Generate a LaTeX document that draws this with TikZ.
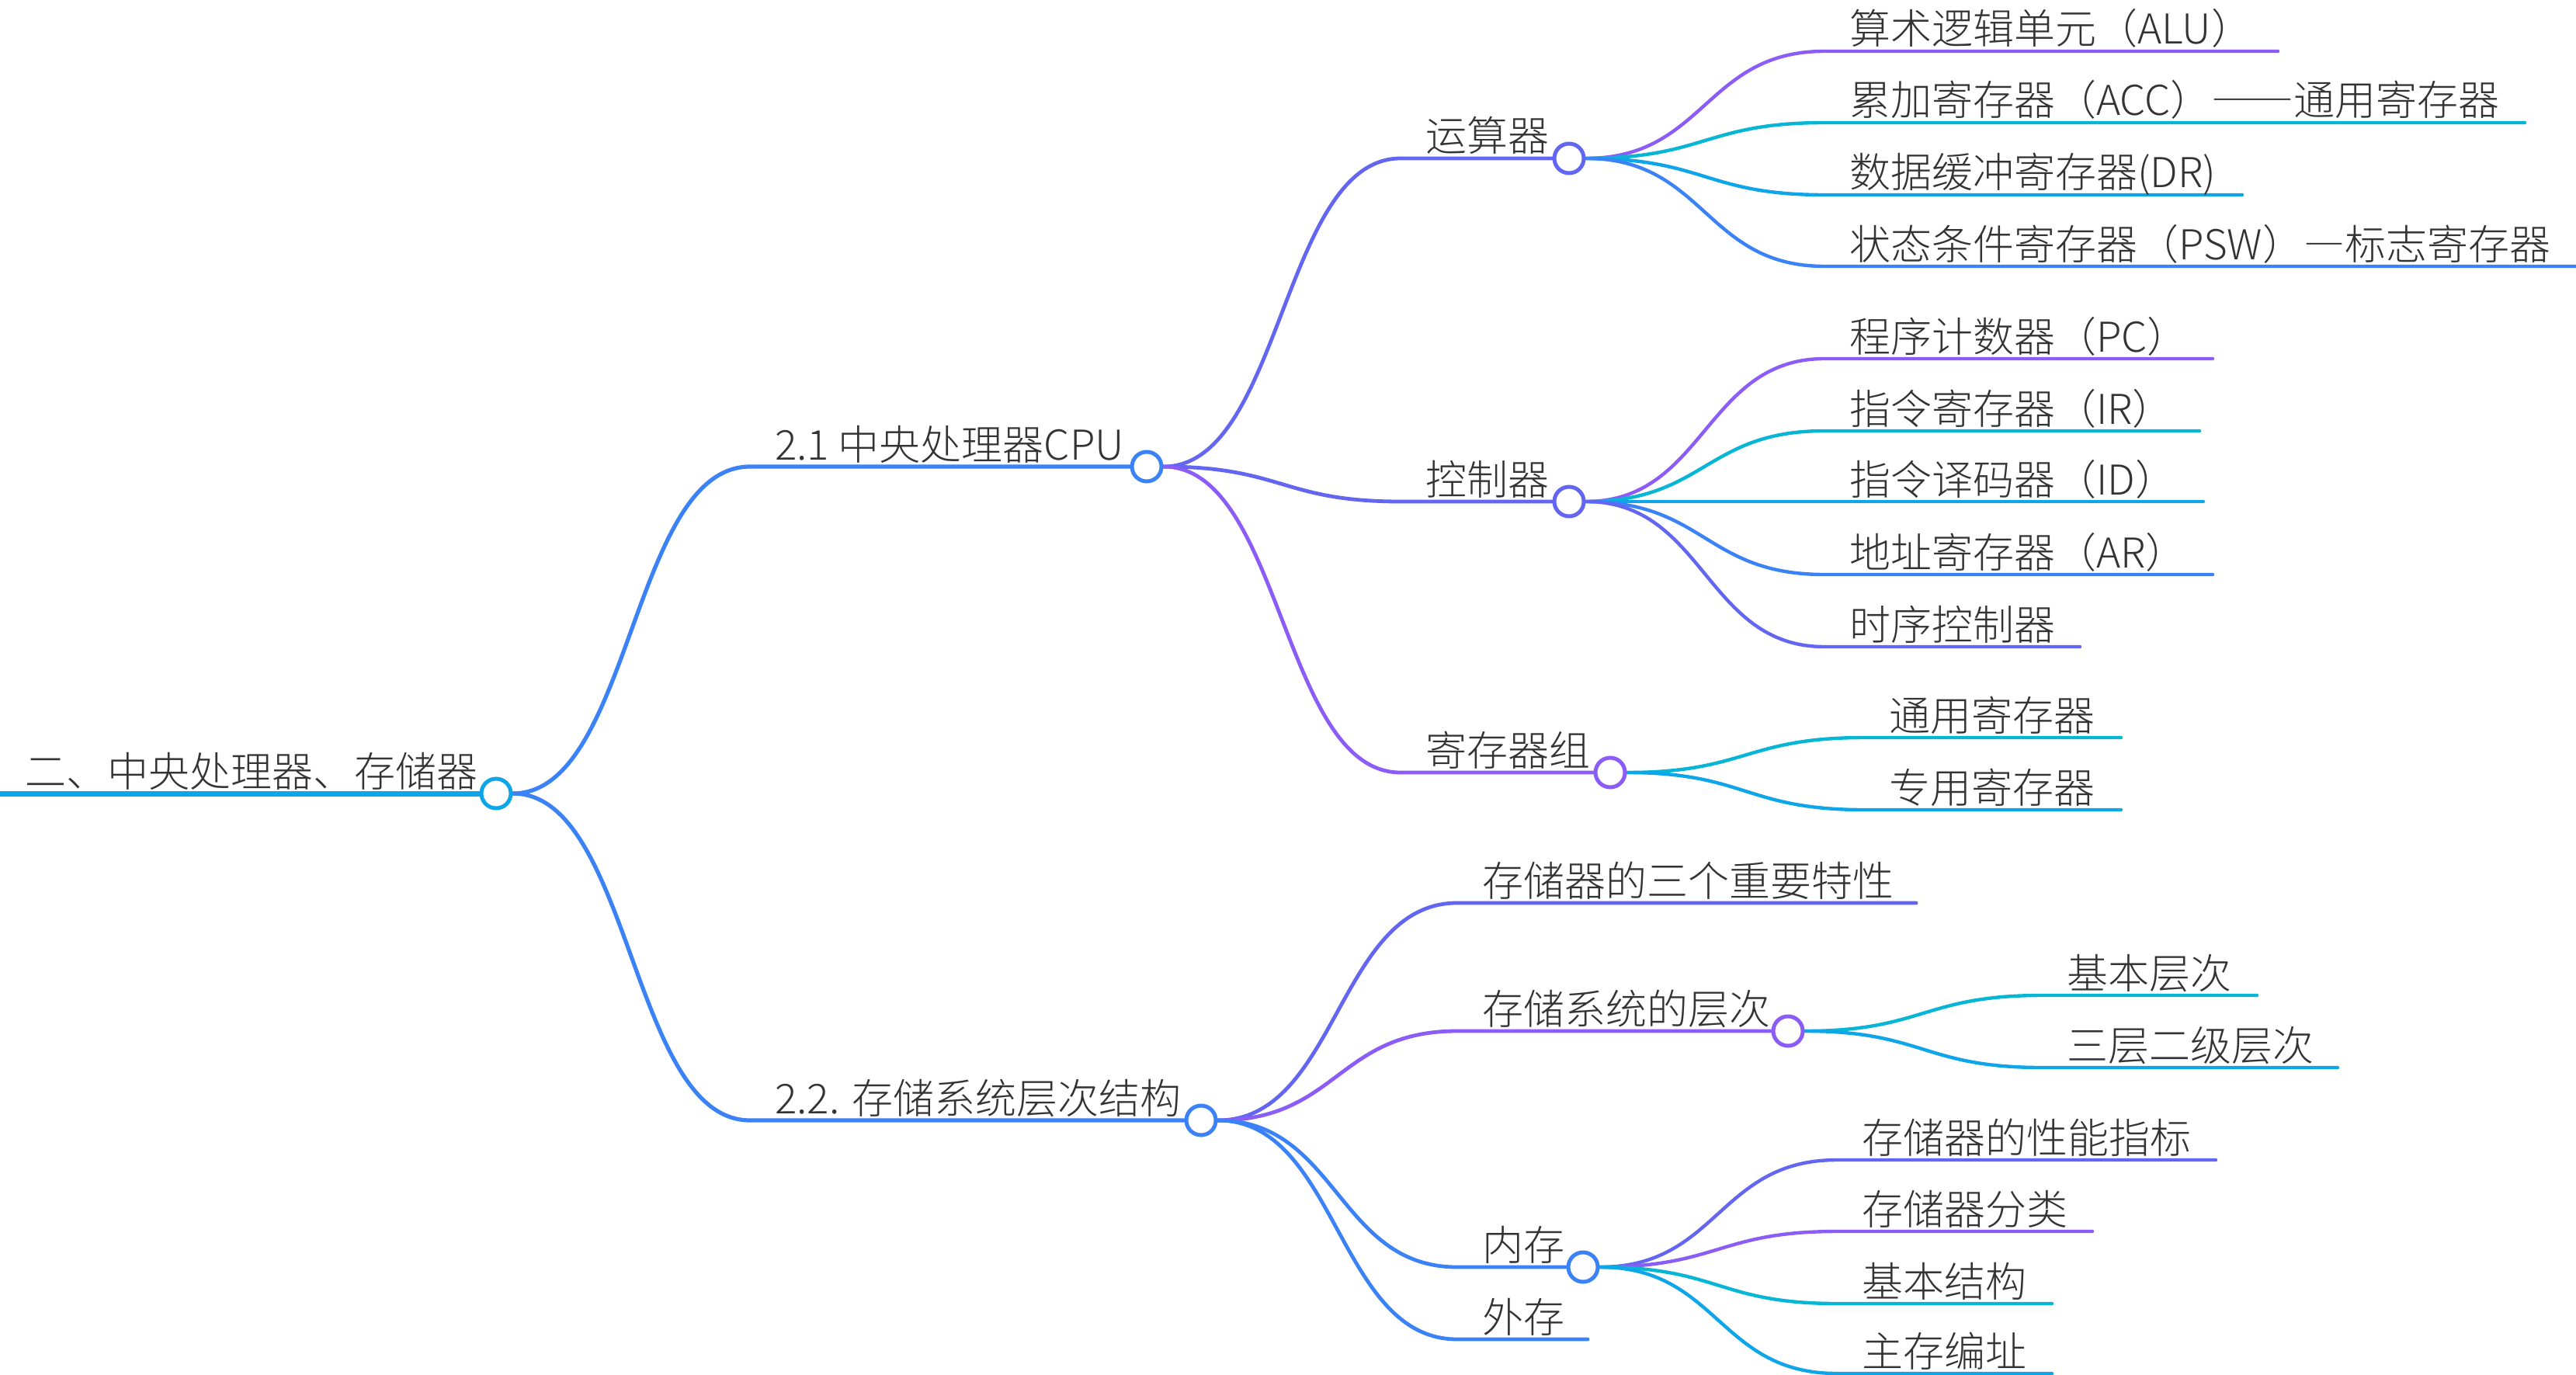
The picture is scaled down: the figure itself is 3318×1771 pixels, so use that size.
\documentclass[tikz,border=0pt]{standalone}
\usepackage{fontspec}
\IfFontExistsTF{Noto Sans CJK SC Light}{\setmainfont{Noto Sans CJK SC Light}\newfontfamily\fwfont[RawFeature=+fwid]{Noto Sans CJK SC Light}}{\setmainfont{Noto Sans CJK SC}\newfontfamily\fwfont[RawFeature=+fwid]{Noto Sans CJK SC}}
\newcommand\fwd[1]{{\fwfont #1}}
\usetikzlibrary{calc}
\definecolor{cSky}{HTML}{0EA5E9}
\definecolor{cBlue}{HTML}{3B82F6}
\definecolor{cInd}{HTML}{6366F1}
\definecolor{cPur}{HTML}{8B5CF6}
\definecolor{cCyan}{HTML}{06B6D4}
\definecolor{cTxt}{HTML}{333333}
\pgfdeclarelayer{bg}
\pgfsetlayers{bg,main}
\tikzset{
  txt/.style={anchor=base west, inner sep=0pt, yshift=-3pt, text=cTxt, font=\fontsize{53pt}{60pt}\selectfont},
  dot/.style={circle, draw=#1, fill=white, line width=5pt, minimum size=38pt, inner sep=0pt},
  lk/.style={line cap=round, line join=round},
  l0/.style={lk, line width=7pt},
  l1/.style={lk, line width=5.2pt},
  l2/.style={lk, line width=4.8pt},
  l3/.style={lk, line width=4.4pt},
}
% connector from a parent circle to a child's line start, then the child's underline
\newcommand\mmbranch[4]{\draw[#4] let \p1=(#1.east), \p2=(#2) in (\p1) .. controls ({(\x1+\x2)/2},\y1) and ({(\x1+\x2)/2},\y2) .. (\p2) -- (#3);}
\begin{document}
\begin{tikzpicture}[x=1pt,y=-1pt]
\useasboundingbox (0,0) rectangle (3318,1771);
% ---------- root
\coordinate (root-s) at (0,1022);
\node[txt] (root) at (32,1010) {二、中央处理器、存储器};
\node[dot=cSky] (root-c) at (639,1022) {};
% ---------- level 1
\coordinate (cpu-s) at (966,601);
\node[txt] (cpu) at (998,589) {2.1 中央处理器CPU};
\node[dot=cBlue] (cpu-c) at (1477,601) {};
\coordinate (mem-s) at (966,1443);
\node[txt] (mem) at (998,1431) {2.2. 存储系统层次结构};
\node[dot=cBlue] (mem-c) at (1547,1443) {};
% ---------- level 2 under CPU
\coordinate (ysq-s) at (1804,204);
\node[txt] (ysq) at (1836,192) {运算器};
\node[dot=cInd] (ysq-c) at (2021,204) {};
\coordinate (kzq-s) at (1804,646);
\node[txt] (kzq) at (1836,634) {控制器};
\node[dot=cInd] (kzq-c) at (2021,646) {};
\coordinate (jcq-s) at (1804,995);
\node[txt] (jcq) at (1836,983) {寄存器组};
\node[dot=cPur] (jcq-c) at (2074,995) {};
% ---------- level 3 under 运算器
\coordinate (alu-s) at (2350,66);  \coordinate (alu-e) at (2934,66);
\node[txt] (alu) at (2382,54) {算术逻辑单元（ALU）};
\coordinate (acc-s) at (2350,158); \coordinate (acc-e) at (3252,158);
\node[txt] (acc) at (2382,146) {累加寄存器（ACC）\fwd{——}通用寄存器};
\coordinate (dr-s) at (2350,251);  \coordinate (dr-e) at (2888,251);
\node[txt] (dr) at (2382,239) {数据缓冲寄存器(DR)};
\coordinate (psw-s) at (2350,343); \coordinate (psw-e) at (3318,343);
\node[txt] (psw) at (2382,331) {状态条件寄存器（PSW）\fwd{—}标志寄存器};
% ---------- level 3 under 控制器
\coordinate (pc-s) at (2350,462);  \coordinate (pc-e) at (2850,462);
\node[txt] (pc) at (2382,450) {程序计数器（PC）};
\coordinate (ir-s) at (2350,555);  \coordinate (ir-e) at (2833,555);
\node[txt] (ir) at (2382,543) {指令寄存器（IR）};
\coordinate (id-s) at (2350,646);  \coordinate (id-e) at (2838,646);
\node[txt] (id) at (2382,634) {指令译码器（ID）};
\coordinate (ar-s) at (2350,740);  \coordinate (ar-e) at (2850,740);
\node[txt] (ar) at (2382,728) {地址寄存器（AR）};
\coordinate (sx-s) at (2350,833);  \coordinate (sx-e) at (2679,833);
\node[txt] (sx) at (2382,821) {时序控制器};
% ---------- level 3 under 寄存器组
\coordinate (ty-s) at (2401,950);  \coordinate (ty-e) at (2732,950);
\node[txt] (ty) at (2433,938) {通用寄存器};
\coordinate (zy-s) at (2401,1043); \coordinate (zy-e) at (2732,1043);
\node[txt] (zy) at (2433,1031) {专用寄存器};
% ---------- level 2 under 2.2
\coordinate (tx-s) at (1877,1163); \coordinate (tx-e) at (2468,1163);
\node[txt] (tx) at (1909,1151) {存储器的三个重要特性};
\coordinate (cc-s) at (1877,1328);
\node[txt] (cc) at (1909,1316) {存储系统的层次};
\node[dot=cPur] (cc-c) at (2303,1328) {};
\coordinate (nc-s) at (1877,1632);
\node[txt] (nc) at (1909,1620) {内存};
\node[dot=cBlue] (nc-c) at (2039,1632) {};
\coordinate (wc-s) at (1877,1725); \coordinate (wc-e) at (2045,1725);
\node[txt] (wc) at (1909,1713) {外存};
% ---------- level 3 under 存储系统的层次
\coordinate (jb-s) at (2630,1282); \coordinate (jb-e) at (2907,1282);
\node[txt] (jb) at (2662,1270) {基本层次};
\coordinate (sc-s) at (2630,1375); \coordinate (sc-e) at (3011,1375);
\node[txt] (sc) at (2662,1363) {三层二级层次};
% ---------- level 3 under 内存
\coordinate (xn-s) at (2366,1494); \coordinate (xn-e) at (2854,1494);
\node[txt] (xn) at (2398,1482) {存储器的性能指标};
\coordinate (fl-s) at (2366,1586); \coordinate (fl-e) at (2695,1586);
\node[txt] (fl) at (2398,1574) {存储器分类};
\coordinate (jg-s) at (2366,1679); \coordinate (jg-e) at (2643,1679);
\node[txt] (jg) at (2398,1667) {基本结构};
\coordinate (bz-s) at (2366,1769); \coordinate (bz-e) at (2643,1769);
\node[txt] (bz) at (2398,1757) {主存编址};
% ---------- connectors and underlines
\begin{pgfonlayer}{bg}
\draw[l0,cSky,line cap=butt] (root-s) -- (root-c);
\mmbranch{root-c}{cpu-s}{cpu-c}{l1,cBlue}
\mmbranch{root-c}{mem-s}{mem-c}{l1,cBlue}
\mmbranch{cpu-c}{ysq-s}{ysq-c}{l2,cInd}
\mmbranch{cpu-c}{kzq-s}{kzq-c}{l2,cInd}
\mmbranch{cpu-c}{jcq-s}{jcq-c}{l2,cPur}
\mmbranch{ysq-c}{alu-s}{alu-e}{l3,cPur}
\mmbranch{ysq-c}{acc-s}{acc-e}{l3,cCyan}
\mmbranch{ysq-c}{dr-s}{dr-e}{l3,cSky}
\mmbranch{ysq-c}{psw-s}{psw-e}{l3,cBlue}
\mmbranch{kzq-c}{pc-s}{pc-e}{l3,cPur}
\mmbranch{kzq-c}{ir-s}{ir-e}{l3,cCyan}
\mmbranch{kzq-c}{id-s}{id-e}{l3,cSky}
\mmbranch{kzq-c}{ar-s}{ar-e}{l3,cBlue}
\mmbranch{kzq-c}{sx-s}{sx-e}{l3,cInd}
\mmbranch{jcq-c}{ty-s}{ty-e}{l3,cCyan}
\mmbranch{jcq-c}{zy-s}{zy-e}{l3,cSky}
\mmbranch{mem-c}{tx-s}{tx-e}{l2,cInd}
\mmbranch{mem-c}{cc-s}{cc-c}{l2,cPur}
\mmbranch{mem-c}{nc-s}{nc-c}{l2,cBlue}
\mmbranch{mem-c}{wc-s}{wc-e}{l2,cBlue}
\mmbranch{cc-c}{jb-s}{jb-e}{l3,cCyan}
\mmbranch{cc-c}{sc-s}{sc-e}{l3,cSky}
\mmbranch{nc-c}{xn-s}{xn-e}{l3,cInd}
\mmbranch{nc-c}{fl-s}{fl-e}{l3,cPur}
\mmbranch{nc-c}{jg-s}{jg-e}{l3,cCyan}
\mmbranch{nc-c}{bz-s}{bz-e}{l3,cSky}
\end{pgfonlayer}
\end{tikzpicture}
\end{document}
